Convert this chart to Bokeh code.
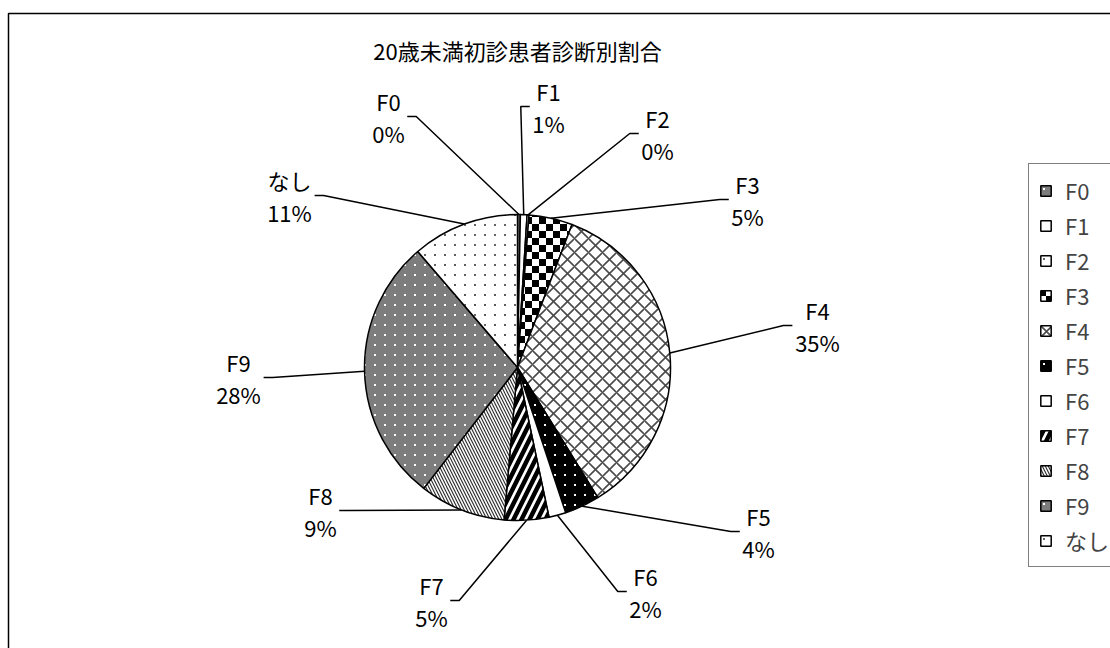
import math
from bokeh.plotting import figure
from bokeh.models import ColumnDataSource, Range1d, Legend, LegendItem, CanvasTexture
from bokeh.core.properties import value
from bokeh.embed import file_html
from bokeh.resources import INLINE

# ---------------- data ----------------
title_text = "20歳未満初診患者診断別割合"
categories = ["F0", "F1", "F2", "F3", "F4", "F5", "F6", "F7", "F8", "F9", "なし"]
shares = [0.3, 0.7, 0.2, 4.6, 35.4, 3.7, 1.8, 4.7, 9.1, 28.2, 11.3]

# ---------------- styles ----------------
fill_colors = ["#7d7d7d", "white", "white", "white", "white", "black",
               "white", "white", "white", "#7d7d7d", "white"]
hatch_patterns = ["wdot", " ", "gdot", "checker", "diagonal_cross", "wdot",
                  " ", "right_diagonal_line", "left_diagonal_line", "wdot", "gdot"]
hatch_colors = ["white", "black", "#555555", "black", "#4a4a4a", "white",
                "black", "black", "#333333", "white", "#555555"]
hatch_scales = [10, 10, 12, 14, 14, 10, 10, 16, 6, 10, 10]
hatch_weights = [1, 1, 1, 1, 1.6, 1, 1, 4.5, 1.2, 1, 1]

# ---------------- layout ----------------
W, H = 1110, 648
FONT_NAME = "Noto Sans CJK JP"
FONT = value(FONT_NAME)
FS_PX = 22
FS = f"{FS_PX}px"
CX, CY, R = 517, H - 367, 153
LINE_GAP = 32
# label centre x and first-line y (screen px)
label_pos = [(388, 100), (548, 90), (657, 117), (747, 183), (817, 309),
             (758, 515), (645, 575), (431, 584), (320, 494), (238, 361), (289, 179)]

total = sum(shares)
cum = [0.0]
for s in shares:
    cum.append(cum[-1] + s / total)
start = [math.pi / 2 - 2 * math.pi * cum[i] for i in range(len(shares))]
end = [math.pi / 2 - 2 * math.pi * cum[i + 1] for i in range(len(shares))]
pct_txt = [f"{int(s / total * 100 + 0.5)}%" for s in shares]

src = ColumnDataSource(dict(
    cat=categories, start=start, end=end,
    fill=fill_colors, hp=hatch_patterns, hc=hatch_colors,
    hs=hatch_scales, hw=hatch_weights,
))

p = figure(width=W, height=H, x_range=Range1d(0, W), y_range=Range1d(0, H),
           output_backend="svg", toolbar_location=None, min_border=0)
p.axis.visible = False
p.grid.visible = False
p.outline_line_color = None
p.background_fill_color = "white"
p.border_fill_color = "white"

# chart-area frame
p.quad(left=[8], right=[W + 50], top=[H - 13], bottom=[-50],
       fill_alpha=0, line_color="black", line_width=1.5)

checker = CanvasTexture(code="""
ctx.canvas.width = 14; ctx.canvas.height = 14;
ctx.fillStyle = '#ffffff';
ctx.fillRect(0, 0, 14, 14);
ctx.fillStyle = '#000000';
ctx.fillRect(0, 0, 7, 7);
ctx.fillRect(7, 7, 7, 7);
""", repetition="repeat")
wdot = CanvasTexture(code="""
ctx.canvas.width = 10; ctx.canvas.height = 10;
ctx.fillStyle = '#ffffff';
ctx.fillRect(4, 4, 2, 2);
""", repetition="repeat")
gdot = CanvasTexture(code="""
ctx.canvas.width = 10; ctx.canvas.height = 10;
ctx.fillStyle = '#666666';
ctx.fillRect(4, 4, 2, 2);
""", repetition="repeat")

r = p.wedge(x=CX, y=CY, radius=R, start_angle="start", end_angle="end",
            direction="clock", source=src,
            fill_color="fill", line_color="black", line_width=1.5,
            hatch_pattern="hp", hatch_color="hc", hatch_scale="hs",
            hatch_weight="hw",
            hatch_extra={"checker": checker, "wdot": wdot, "gdot": gdot})

def tw(s):
    return sum(FS_PX * (1.0 if ord(c) > 0x2000 else (0.85 if c == "%" else 0.58)) for c in s)

# labels and leader lines
xs, ys = [], []
n1x, n1y, n2x, n2y = [], [], [], []
for i, cat in enumerate(categories):
    mid = (cum[i] + cum[i + 1]) / 2
    ang = math.pi / 2 - 2 * math.pi * mid
    px, py = CX + R * math.cos(ang), CY + R * math.sin(ang)
    lx, sy1 = label_pos[i]
    n1x.append(lx); n1y.append(H - sy1)
    n2x.append(lx); n2y.append(H - sy1 - LINE_GAP)
    hw = max(tw(cat), tw(pct_txt[i])) / 2
    ay = H - sy1 - LINE_GAP / 2
    if lx < px - 5:
        ax = lx + hw + 3
        bx = ax + 9
    else:
        ax = lx - hw - 3
        bx = ax - 9
    xs.append([ax, bx, px])
    ys.append([ay, ay, py])

p.multi_line(xs=xs, ys=ys, line_color="black", line_width=1.5)
p.text(x=n1x, y=n1y, text=categories, text_font=FONT, text_font_size=FS,
       text_align="center", text_baseline="middle", text_color="black")
p.text(x=n2x, y=n2y, text=pct_txt, text_font=FONT, text_font_size=FS,
       text_align="center", text_baseline="middle", text_color="black")

p.text(x=[CX], y=[H - 49], text=[title_text], text_font=FONT, text_font_size=FS,
       text_align="center", text_baseline="middle", text_color="black")

items = [LegendItem(label=c, renderers=[r], index=i) for i, c in enumerate(categories)]
legend = Legend(items=items, location=(1028, H - 567), orientation="vertical",
                label_text_font=FONT_NAME, label_text_font_size=FS,
                glyph_width=13, glyph_height=13, label_height=24, spacing=3,
                padding=10, margin=0, label_standoff=13,
                border_line_color="black", border_line_width=1.5,
                background_fill_color="white", background_fill_alpha=1.0)
p.add_layout(legend)

open("out.html", "w").write(file_html(p, INLINE))
